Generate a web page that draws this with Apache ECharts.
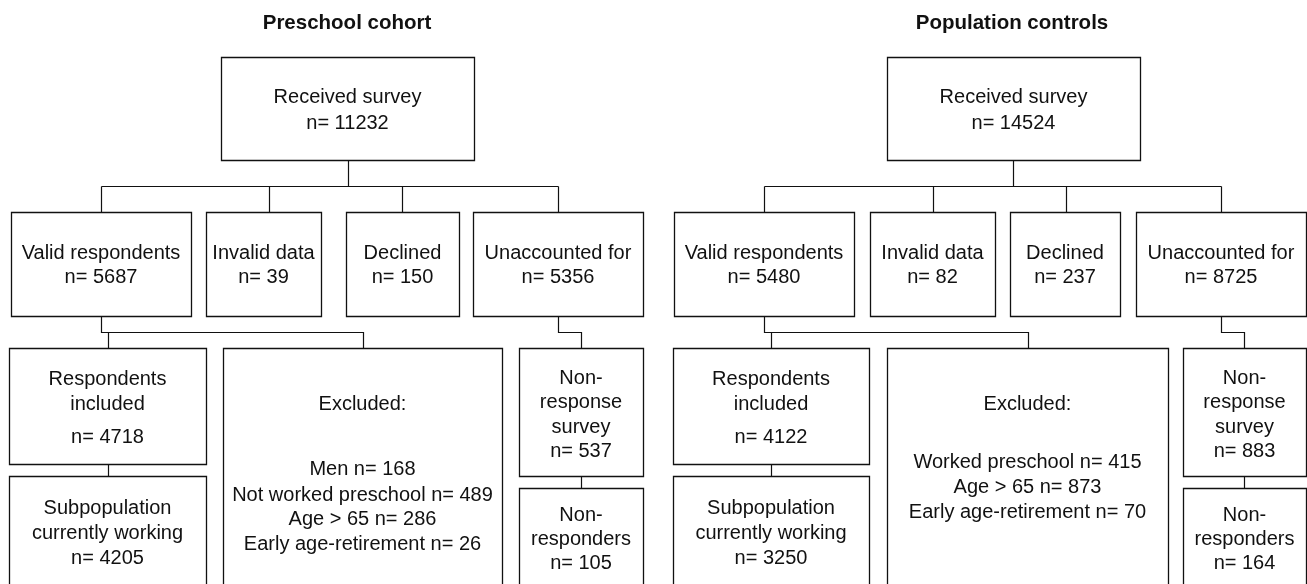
<!DOCTYPE html>
<html>
<head>
<meta charset="utf-8">
<script src="https://cdn.jsdelivr.net/npm/echarts@6/dist/echarts.min.js"></script>
<style>
  html, body { margin: 0; padding: 0; background: #fff; }
  #main { width: 1307px; height: 584px; }
</style>
</head>
<body>
<div id="main"></div>
<script>
// data
const panelTitles = ['Preschool cohort', 'Population controls'];
const receivedCounts = [11232, 14524];
const stageLabels = ['Valid respondents', 'Invalid data', 'Declined', 'Unaccounted for'];
const stageCounts = [[5687, 39, 150, 5356], [5480, 82, 237, 8725]];
const includedCounts = [4718, 4122];
const workingCounts = [4205, 3250];
const nonResponseSurveyCounts = [537, 883];
const nonResponderCounts = [105, 164];
const excludedLabels = [
  ['Men', 'Not worked preschool', 'Age > 65', 'Early age-retirement'],
  ['Worked preschool', 'Age > 65', 'Early age-retirement']
];
const excludedCounts = [[168, 489, 286, 26], [415, 873, 70]];

// layout (pixel space of the drawing)
const W = 1307, H = 584;
const FONT = '"Liberation Sans", Arial, Helvetica, sans-serif';
const layout = [
  {
    titleX: 347,
    top: [221, 474],
    stage: [[11, 191], [206, 321], [346, 459], [473, 643]],
    ticks: [101, 269, 402, 558],
    topCx: 348,
    included: [9, 206], excluded: [223, 502], nonResp: [519, 643],
    incX: 108, excX: 363, nrX: 581,
    excludedY: [469, 495, 519, 544]
  },
  {
    titleX: 1012,
    top: [887, 1140],
    stage: [[674, 854], [870, 995], [1010, 1120], [1136, 1306]],
    ticks: [764, 933, 1066, 1221],
    topCx: 1013,
    included: [673, 869], excluded: [887, 1168], nonResp: [1183, 1306],
    incX: 771, excX: 1028, nrX: 1244,
    excludedY: [462, 487, 512]
  }
];

const boxes = [];
const links = [];
const titles = [];
const n = v => 'n= ' + v;

layout.forEach((L, p) => {
  titles.push({ x: L.titleX, y: 23, text: panelTitles[p] });
  boxes.push({ x0: L.top[0], x1: L.top[1], y0: 57, y1: 160,
    lines: ['Received survey', n(receivedCounts[p])], ys: [97, 123] });
  L.stage.forEach((s, i) => {
    boxes.push({ x0: s[0], x1: s[1], y0: 212, y1: 316,
      lines: [stageLabels[i], n(stageCounts[p][i])], ys: [253, 277] });
  });
  boxes.push({ x0: L.included[0], x1: L.included[1], y0: 348, y1: 464,
    lines: ['Respondents', 'included', n(includedCounts[p])], ys: [379, 404, 437] });
  boxes.push({ x0: L.included[0], x1: L.included[1], y0: 476, y1: 600,
    lines: ['Subpopulation', 'currently working', n(workingCounts[p])], ys: [508, 533, 558] });
  boxes.push({ x0: L.excluded[0], x1: L.excluded[1], y0: 348, y1: 600,
    lines: ['Excluded:'].concat(excludedLabels[p].map((l, i) => l + ' ' + n(excludedCounts[p][i]))),
    ys: [404].concat(L.excludedY) });
  boxes.push({ x0: L.nonResp[0], x1: L.nonResp[1], y0: 348, y1: 476,
    lines: ['Non-', 'response', 'survey', n(nonResponseSurveyCounts[p])], ys: [378, 402, 427, 451] });
  boxes.push({ x0: L.nonResp[0], x1: L.nonResp[1], y0: 488, y1: 600,
    lines: ['Non-', 'responders', n(nonResponderCounts[p])], ys: [515, 539, 563] });

  const t = L.ticks;
  links.push([[L.topCx, 160], [L.topCx, 186]]);
  links.push([[t[0], 186], [t[3], 186]]);
  t.forEach(x => links.push([[x, 186], [x, 212]]));
  links.push([[t[0], 316], [t[0], 332], [L.excX, 332], [L.excX, 348]]);
  links.push([[L.incX, 332], [L.incX, 348]]);
  links.push([[L.incX, 464], [L.incX, 476]]);
  links.push([[t[3], 316], [t[3], 332], [L.nrX, 332], [L.nrX, 348]]);
  links.push([[L.nrX, 476], [L.nrX, 488]]);
});

const chart = echarts.init(document.getElementById('main'), null, { renderer: 'canvas' });

const px = v => Math.round(v) + 0.5;

chart.setOption({
  animation: false,
  backgroundColor: '#fff',
  grid: { left: 0, right: 0, top: 0, bottom: 0 },
  xAxis: { type: 'value', min: 0, max: W, show: false },
  yAxis: { type: 'value', min: 0, max: H, inverse: true, show: false },
  series: [
    {
      type: 'custom',
      clip: false,
      silent: true,
      data: links.map((l, i) => [i]),
      renderItem: (params, api) => {
        const pts = links[params.dataIndex].map(q => {
          const c = api.coord(q);
          return [px(c[0]), px(c[1])];
        });
        return {
          type: 'polyline',
          shape: { points: pts },
          style: { stroke: '#111', lineWidth: 1.2, fill: null }
        };
      }
    },
    {
      type: 'custom',
      clip: false,
      silent: true,
      data: boxes.map((b, i) => [i]),
      renderItem: (params, api) => {
        const b = boxes[params.dataIndex];
        const p0 = api.coord([b.x0, b.y0]);
        const p1 = api.coord([b.x1, b.y1]);
        const cx = (p0[0] + p1[0]) / 2;
        const children = [{
          type: 'rect',
          shape: { x: px(p0[0]), y: px(p0[1]), width: Math.round(p1[0] - p0[0]), height: Math.round(p1[1] - p0[1]) },
          style: { fill: '#fff', stroke: '#111', lineWidth: 1.3 }
        }];
        b.lines.forEach((line, i) => {
          const c = api.coord([0, b.ys[i]]);
          children.push({
            type: 'text',
            x: cx, y: c[1],
            style: {
              text: line, fill: '#111', fontSize: 20, fontFamily: FONT,
              align: 'center', verticalAlign: 'middle'
            }
          });
        });
        return { type: 'group', children: children };
      }
    },
    {
      type: 'custom',
      clip: false,
      silent: true,
      data: titles.map((t, i) => [i]),
      renderItem: (params, api) => {
        const t = titles[params.dataIndex];
        const c = api.coord([t.x, t.y]);
        return {
          type: 'text',
          x: c[0], y: c[1],
          style: {
            text: t.text, fill: '#111', fontSize: 20.5, fontWeight: 'bold', fontFamily: FONT,
            align: 'center', verticalAlign: 'middle'
          }
        };
      }
    }
  ]
});

window.addEventListener('resize', () => {
  chart.resize();
});
</script>
</body>
</html>
